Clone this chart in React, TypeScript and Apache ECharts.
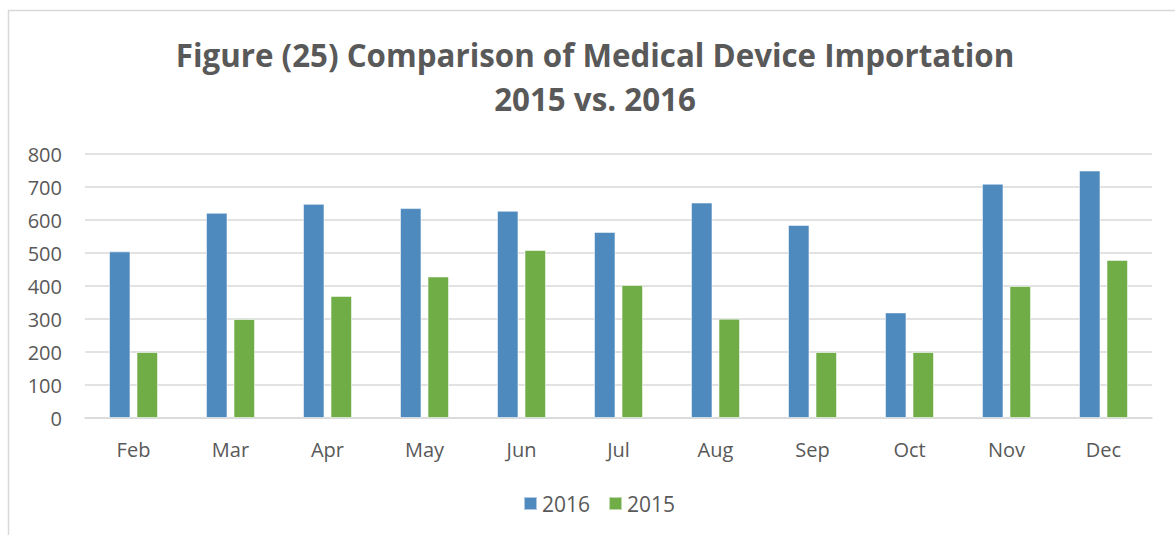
import React, { useEffect, useRef } from "react";
import * as echarts from "echarts";

const months = ["Feb", "Mar", "Apr", "May", "Jun", "Jul", "Aug", "Sep", "Oct", "Nov", "Dec"];
const values2016 = [505, 622, 649, 636, 628, 564, 653, 585, 320, 710, 750];
const values2015 = [200, 300, 370, 429, 509, 403, 301, 200, 200, 400, 479];
const titleLine1 = "Figure (25) Comparison of Medical Device Importation";
const titleLine2 = "2015 vs. 2016";

const FONT = "'Open Sans', 'Noto Sans', sans-serif";
const TEXT = "#595959";

export default function App() {
  const ref = useRef<HTMLDivElement>(null);
  useEffect(() => {
    if (!ref.current) return;
    const chart = echarts.init(ref.current, undefined, { renderer: "svg" });
    chart.setOption({
      animation: false,
      backgroundColor: "#ffffff",
      textStyle: { fontFamily: FONT },
      graphic: [
        {
          type: "rect",
          shape: { x: 8.5, y: 10.5, width: 1300, height: 700 },
          style: { fill: "none", stroke: "#d9d9d9", lineWidth: 1.5 },
          silent: true,
          z: -1,
        },
        {
          type: "text",
          x: 595,
          y: 55,
          style: {
            text: titleLine1,
            fontFamily: FONT,
            fontSize: 31.3,
            fontWeight: "bold",
            fill: TEXT,
            textAlign: "center",
            textVerticalAlign: "middle",
          },
        },
        {
          type: "text",
          x: 595,
          y: 99,
          style: {
            text: titleLine2,
            fontFamily: FONT,
            fontSize: 31.3,
            fontWeight: "bold",
            fill: TEXT,
            textAlign: "center",
            textVerticalAlign: "middle",
          },
        },
      ],
      legend: {
        data: ["2016", "2015"],
        left: 518,
        top: 488,
        itemWidth: 13,
        itemHeight: 13,
        itemGap: 18,
        icon: "rect",
        textStyle: { fontFamily: FONT, fontSize: 21, color: TEXT, padding: [0, 0, 0, 0] },
      },
      grid: { left: 85, right: 23, top: 154, bottom: 117 },
      xAxis: {
        type: "category",
        data: months,
        axisLine: { show: true, lineStyle: { color: "#d9d9d9", width: 1.5 } },
        axisTick: { show: false },
        axisLabel: { fontFamily: FONT, fontSize: 20, color: TEXT, margin: 21 },
      },
      yAxis: {
        type: "value",
        min: 0,
        max: 800,
        interval: 100,
        axisLine: { show: false },
        axisTick: { show: false },
        splitLine: { lineStyle: { color: "#d9d9d9", width: 1.5 } },
        axisLabel: { fontFamily: FONT, fontSize: 20, color: TEXT, margin: 23 },
      },
      series: [
        {
          name: "2016",
          type: "bar",
          data: values2016,
          barWidth: 21.5,
          barGap: "28%",
          itemStyle: { color: "#4e8abe", borderColor: "rgba(255,255,255,0.55)", borderWidth: 1 },
        },
        {
          name: "2015",
          type: "bar",
          data: values2015,
          barWidth: 21.5,
          barGap: "28%",
          itemStyle: { color: "#70ad47", borderColor: "rgba(255,255,255,0.55)", borderWidth: 1 },
        },
      ],
    });
    return () => chart.dispose();
  }, []);
  return (
    <div
      ref={ref}
      style={{ position: "fixed", left: 0, top: 0, width: 1175, height: 535 }}
    />
  );
}
